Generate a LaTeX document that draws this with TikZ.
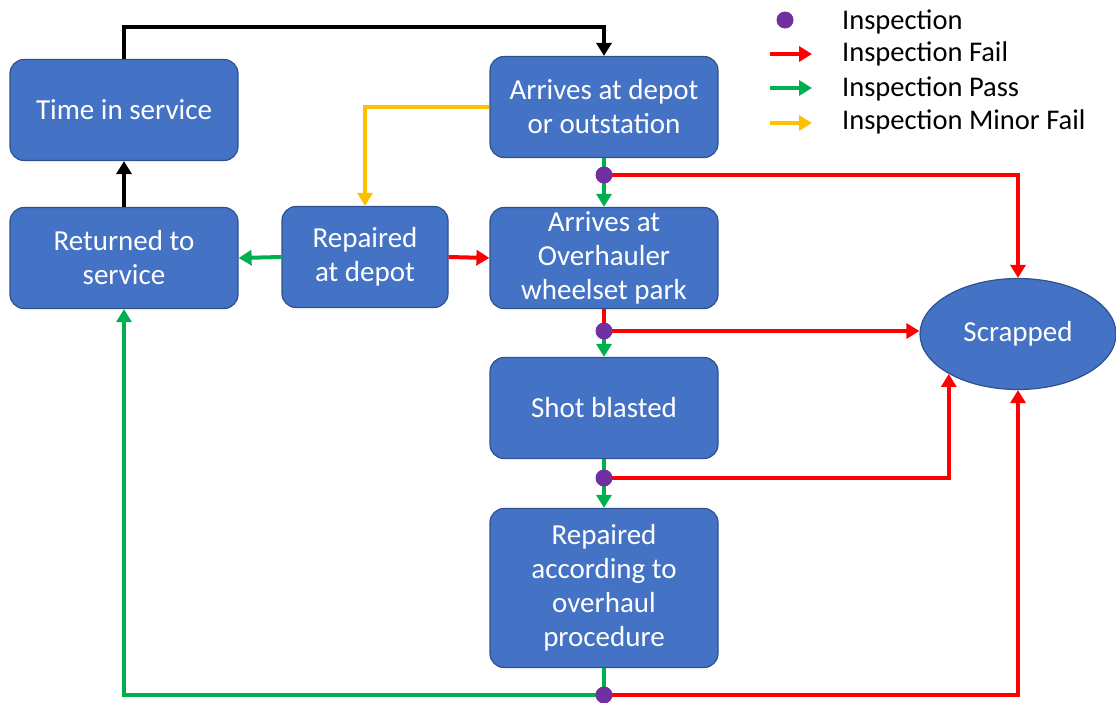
\documentclass[tikz,border=0pt]{standalone}
\usepackage{fontspec}
\setmainfont{Carlito}
\usetikzlibrary{arrows.meta,shapes.geometric}
\definecolor{boxfill}{HTML}{4472C4}
\definecolor{boxedge}{HTML}{2F528F}
\definecolor{failred}{HTML}{FF0000}
\definecolor{passgreen}{HTML}{00B050}
\definecolor{minoryellow}{HTML}{FFC000}
\definecolor{inspurple}{HTML}{7030A0}
\tikzset{
  box/.style={draw=boxedge, line width=1.2pt, fill=boxfill, rounded corners=14pt,
    text=white, align=center, font=\fontsize{29}{34}\selectfont,
    minimum width=228pt, minimum height=101pt, inner sep=0pt},
  oval/.style={ellipse, draw=boxedge, line width=1.2pt, fill=boxfill, text=white,
    font=\fontsize{29}{34}\selectfont, minimum width=196pt, minimum height=111pt, inner sep=0pt},
  insp/.style={circle, fill=inspurple, minimum size=17pt, inner sep=0pt},
  conn/.style={line width=4pt},
  tip/.style={-{Triangle[length=13pt,width=15pt]}},
  blk/.style={conn, black},
  red/.style={conn, failred},
  grn/.style={conn, passgreen},
  ylw/.style={conn, minoryellow},
  legtext/.style={anchor=west, inner sep=0pt, font=\fontsize{28.5}{30}\selectfont}
}
\begin{document}
\begin{tikzpicture}[x=1pt,y=-1pt]
\useasboundingbox (0,0) rectangle (1116,702);

% boxes
\node[box] (time) at (124,110) {Time in service};
\node[box] (arr) at (604,107) {Arrives at depot\\or outstation};
\node[box] (ret) at (124,258) {Returned to\\service};
\node[box, minimum width=166pt] (rdep) at (365,257) {Repaired\\at depot};
\node[box] (ovh) at (604,258) {Arrives at\\Overhauler\\wheelset park};
\node[box] (shot) at (604,408) {Shot blasted};
\node[box, minimum height=159pt] (rep) at (604,588) {Repaired\\according to\\overhaul\\procedure};
\node[oval] (scr) at (1018,334) {Scrapped};

% inspection points (placed, drawn later on top)
\coordinate (d1) at (604,175);
\coordinate (d2) at (604,331);
\coordinate (d3) at (604,478);
\coordinate (d4) at (604,695);

% connectors
\draw[blk, tip] (time.north) -- ++(0,-32) -| (arr.north);
\draw[ylw, tip] (arr.west) -| (rdep.north);
\draw[grn] (arr.south) -- (d1);
\draw[grn, tip] (d1) -- (ovh.north);
\draw[red, tip] (d1) -| (scr.north);
\draw[red, tip] (rdep.east) -- (ovh.west);
\draw[grn, tip] (rdep.west) -- (ret.east);
\draw[blk, tip] (ret.north) -- (time.south);
\draw[red] (ovh.south) -- (d2);
\draw[grn, tip] (d2) -- (shot.north);
\draw[red, tip] (d2) -- (d2 -| scr.west);
\draw[grn] (shot.south) -- (d3);
\draw[grn, tip] (d3) -- (rep.north);
\draw[red, tip] (d3) -| (scr.210);
\draw[grn] (rep.south) -- (d4);
\draw[grn, tip] (d4) -| (ret.south);
\draw[red, tip] (d4) -| (scr.south);

\node[insp] (i1) at (d1) {};
\node[insp] (i2) at (d2) {};
\node[insp] (i3) at (d3) {};
\node[insp] (i4) at (d4) {};

% legend
\node[insp] (ld) at (785,20) {};
\coordinate (lr1) at (770,54);  \coordinate (lr2) at (812,54);
\coordinate (lg1) at (770,88);  \coordinate (lg2) at (812,88);
\coordinate (ly1) at (770,123); \coordinate (ly2) at (812,123);
\draw[red, tip] (lr1) -- (lr2);
\draw[grn, tip] (lg1) -- (lg2);
\draw[ylw, tip] (ly1) -- (ly2);
\node[legtext] (t1) at (842,22) {Inspection};
\node[legtext] (t2) at (842,54) {Inspection Fail};
\node[legtext] (t3) at (842,89) {Inspection Pass};
\node[legtext] (t4) at (842,122) {Inspection Minor Fail};
\end{tikzpicture}
\end{document}
